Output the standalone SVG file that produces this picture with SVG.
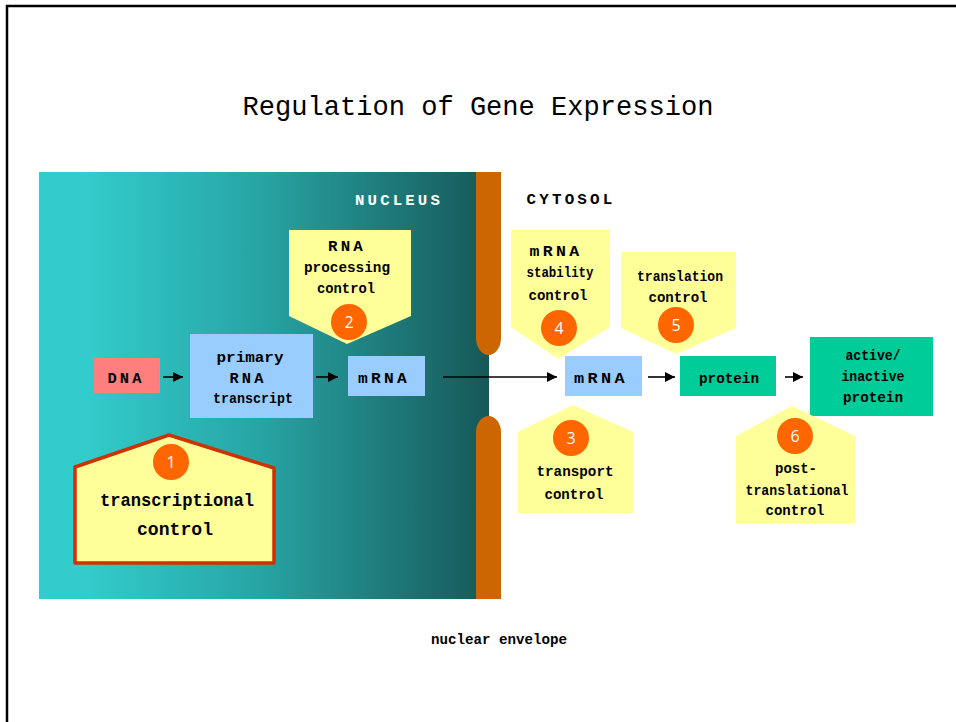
<svg xmlns="http://www.w3.org/2000/svg" width="956" height="722" viewBox="0 0 956 722">
<defs>
<linearGradient id="nuc" x1="0" y1="0" x2="1" y2="0">
<stop offset="0" stop-color="#33CCCC"/>
<stop offset="0.1" stop-color="#33CCCC"/>
<stop offset="0.5" stop-color="#27A3A3"/>
<stop offset="1" stop-color="#175858"/>
</linearGradient>
<marker id="ah" viewBox="0 0 10 10" refX="10" refY="5" markerWidth="10" markerHeight="10" markerUnits="userSpaceOnUse" orient="auto">
<path d="M0,0 L10,5 L0,10 Z" fill="#000"/>
</marker>
<style>
.t{font-family:"Liberation Mono","Courier New",monospace;font-weight:bold;font-size:15px;fill:#000;text-anchor:middle}
.caps{letter-spacing:3px}
.num{font-family:"Open Sans","DejaVu Sans",sans-serif;font-size:16px;fill:#fff;text-anchor:middle}
.call{fill:#FFFF99}
.circ{fill:#FF6600}
.edge{stroke:#000;stroke-width:1.6;fill:none;marker-end:url(#ah)}
</style>
</defs>
<rect width="956" height="722" fill="#fff"/>
<path d="M7,722 V6 H956" fill="none" stroke="#000" stroke-width="2.5"/>
<text x="478" y="115" font-family="Liberation Mono, Courier New, monospace" font-size="28" text-anchor="middle" textLength="471" lengthAdjust="spacingAndGlyphs">Regulation of Gene Expression</text>

<g id="nucleus">
<rect x="39" y="172" width="450" height="427" fill="url(#nuc)"/>
<text class="t caps" x="399" y="205" fill="#fff" style="fill:#fff" textLength="88" lengthAdjust="spacingAndGlyphs">NUCLEUS</text>
</g>
<g id="envelope">
<path d="M476,172 H501 V338 A12.5,17 0 0 1 476,338 Z" fill="#CC6600"/>
<path d="M476,599 V432 A12.5,16 0 0 1 501,432 V599 Z" fill="#CC6600"/>
</g>
<text class="t caps" x="571" y="204" textLength="89" lengthAdjust="spacingAndGlyphs">CYTOSOL</text>

<g id="connectors">
<line class="edge" x1="163" y1="377" x2="183" y2="377"/>
<line class="edge" x1="316" y1="377" x2="338" y2="377"/>
<line class="edge" x1="443" y1="377" x2="557" y2="377"/>
<line class="edge" x1="648" y1="377" x2="675" y2="377"/>
<line class="edge" x1="785" y1="377" x2="803" y2="377"/>
</g>

<g id="dna">
<rect x="94" y="358" width="66" height="35" fill="#FF7F7F"/>
<text class="t caps" x="126" y="383" textLength="37" lengthAdjust="spacingAndGlyphs">DNA</text>
</g>
<g id="primary">
<rect x="190" y="334" width="123" height="84" fill="#99CCFF"/>
<text class="t" x="250" y="362" textLength="67" lengthAdjust="spacingAndGlyphs">primary</text>
<text class="t caps" x="248" y="383" textLength="37" lengthAdjust="spacingAndGlyphs">RNA</text>
<text class="t" x="253" y="403" textLength="80" lengthAdjust="spacingAndGlyphs">transcript</text>
</g>
<g id="mrna1">
<rect x="348" y="356" width="77" height="40" fill="#99CCFF"/>
<text class="t caps" x="384" y="383" textLength="52" lengthAdjust="spacingAndGlyphs">mRNA</text>
</g>
<g id="mrna2">
<rect x="565" y="356" width="77" height="40" fill="#99CCFF"/>
<text class="t caps" x="601" y="383" textLength="54" lengthAdjust="spacingAndGlyphs">mRNA</text>
</g>
<g id="protein">
<rect x="680" y="356" width="96" height="40" fill="#00CC99"/>
<text class="t" x="729" y="383" textLength="60" lengthAdjust="spacingAndGlyphs">protein</text>
</g>
<g id="active">
<rect x="810" y="337" width="123" height="79" fill="#00CC99"/>
<text class="t" x="873" y="360" textLength="55" lengthAdjust="spacingAndGlyphs">active/</text>
<text class="t" x="873" y="381" textLength="63" lengthAdjust="spacingAndGlyphs">inactive</text>
<text class="t" x="873" y="402" textLength="60" lengthAdjust="spacingAndGlyphs">protein</text>
</g>

<g id="ctrl1">
<polygon points="75,563 274,563 274,468 169,435 75,467" fill="#FFFF99" stroke="#CC3300" stroke-width="3.5" stroke-linejoin="round"/>
<circle class="circ" cx="171" cy="462" r="18"/>
<text class="num" x="171" y="468">1</text>
<text class="t" x="177" y="506" style="font-size:19px" textLength="154" lengthAdjust="spacingAndGlyphs">transcriptional</text>
<text class="t" x="175" y="535" style="font-size:19px" textLength="76" lengthAdjust="spacingAndGlyphs">control</text>
</g>
<g id="ctrl2">
<polygon class="call" points="289,230 411,230 411,316 347,344 289,316"/>
<text class="t caps" x="347" y="251" textLength="38" lengthAdjust="spacingAndGlyphs">RNA</text>
<text class="t" x="347" y="272" textLength="86" lengthAdjust="spacingAndGlyphs">processing</text>
<text class="t" x="346" y="293" textLength="58" lengthAdjust="spacingAndGlyphs">control</text>
<circle class="circ" cx="349" cy="322" r="18"/>
<text class="num" x="349" y="328">2</text>
</g>
<g id="ctrl3">
<polygon class="call" points="518,513 633,513 633,432 573,405 518,432"/>
<circle class="circ" cx="571" cy="438" r="18"/>
<text class="num" x="571" y="444">3</text>
<text class="t" x="575" y="476" textLength="77" lengthAdjust="spacingAndGlyphs">transport</text>
<text class="t" x="574" y="499" textLength="59" lengthAdjust="spacingAndGlyphs">control</text>
</g>
<g id="ctrl4">
<polygon class="call" points="511,230 610,230 610,327 558,359 511,327"/>
<text class="t caps" x="556" y="256" textLength="53" lengthAdjust="spacingAndGlyphs">mRNA</text>
<text class="t" x="560" y="277" textLength="67" lengthAdjust="spacingAndGlyphs">stability</text>
<text class="t" x="558" y="300" textLength="59" lengthAdjust="spacingAndGlyphs">control</text>
<circle class="circ" cx="559" cy="328" r="18"/>
<text class="num" x="559" y="334">4</text>
</g>
<g id="ctrl5">
<polygon class="call" points="621,252 736,252 736,328 676,354 621,328"/>
<text class="t" x="680" y="281" textLength="86" lengthAdjust="spacingAndGlyphs">translation</text>
<text class="t" x="678" y="302" textLength="59" lengthAdjust="spacingAndGlyphs">control</text>
<circle class="circ" cx="676" cy="325" r="18"/>
<text class="num" x="676" y="331">5</text>
</g>
<g id="ctrl6">
<polygon class="call" points="736,523 855,523 855,436 792,406 736,436"/>
<circle class="circ" cx="795" cy="436" r="18"/>
<text class="num" x="795" y="442">6</text>
<text class="t" x="796" y="473" textLength="42" lengthAdjust="spacingAndGlyphs">post-</text>
<text class="t" x="797" y="495" textLength="103" lengthAdjust="spacingAndGlyphs">translational</text>
<text class="t" x="795" y="515" textLength="59" lengthAdjust="spacingAndGlyphs">control</text>
</g>

<text class="t" x="499" y="644" textLength="136" lengthAdjust="spacingAndGlyphs">nuclear envelope</text>
</svg>
